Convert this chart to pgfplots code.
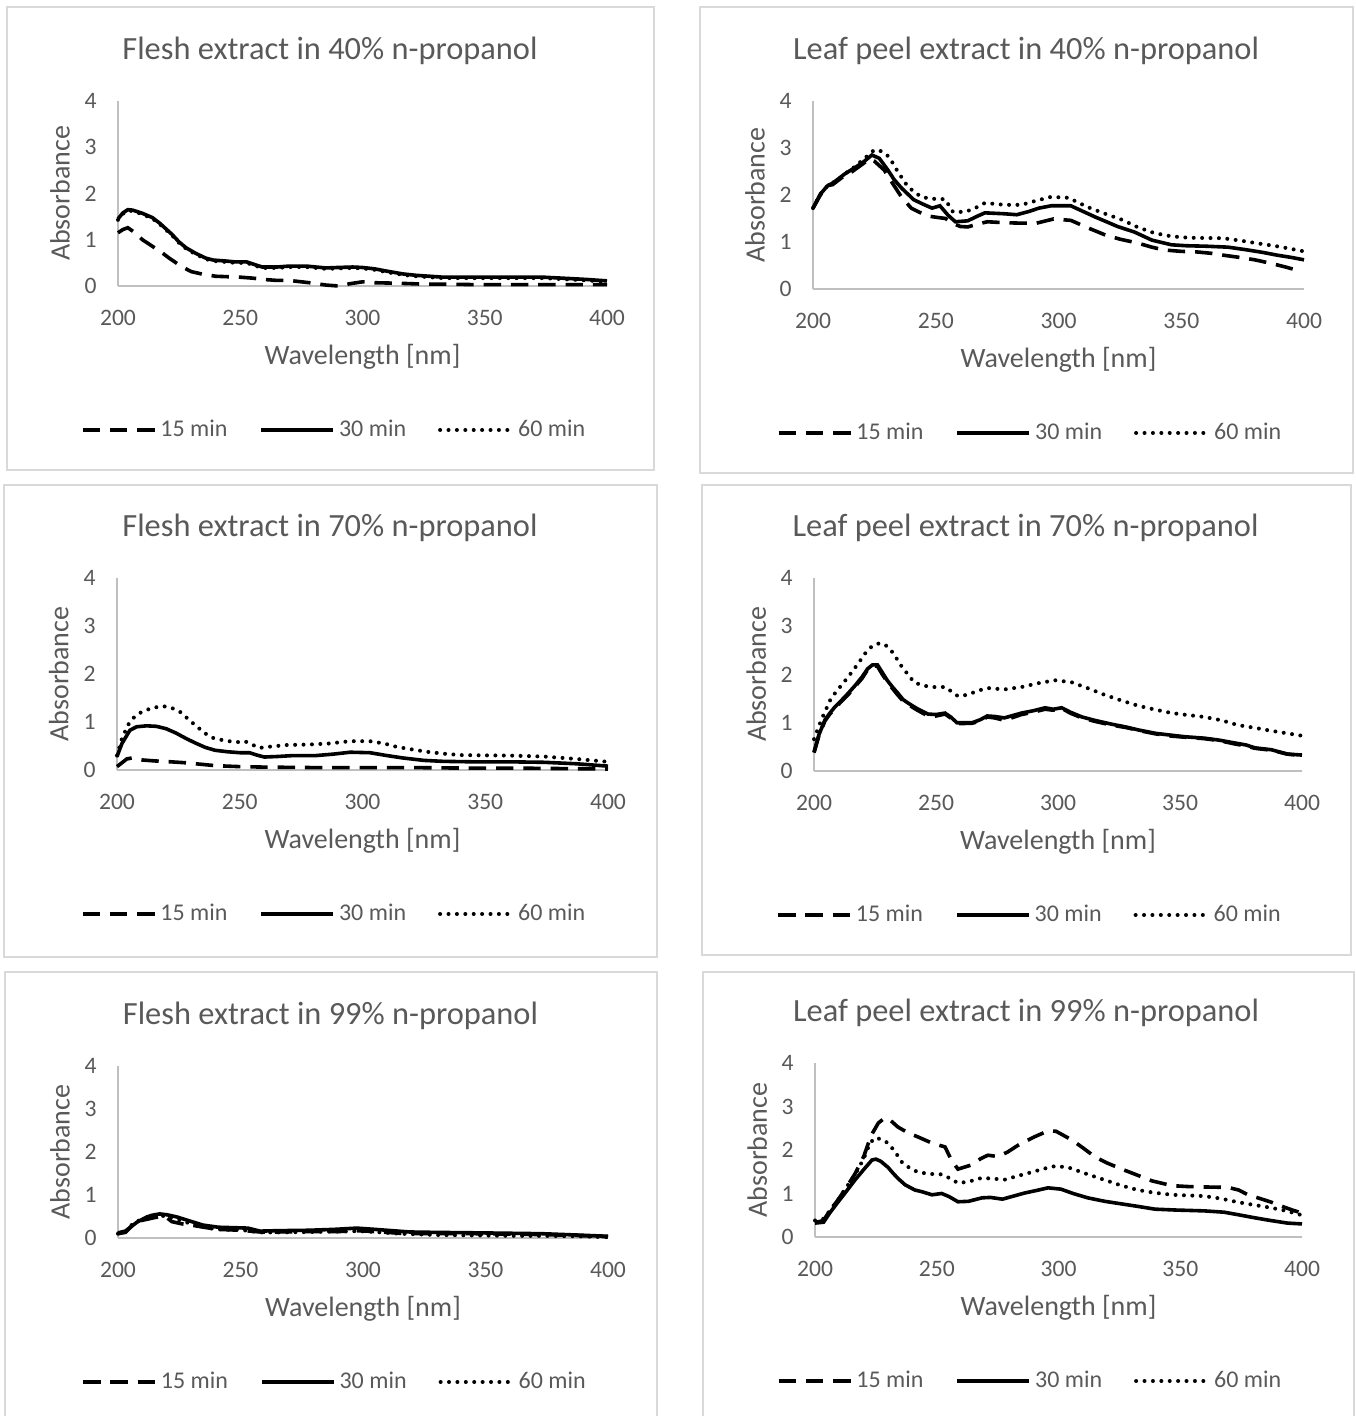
\documentclass[border=0pt]{standalone}
\usepackage{fontspec}
\setmainfont{Carlito}
\usepackage{pgfplots}
\pgfplotsset{compat=1.18}
\definecolor{txt}{HTML}{595959}
\definecolor{framec}{HTML}{D9D9D9}
\definecolor{axl}{HTML}{BFBFBF}

\tikzset{
  s15/.style={black, line width=1.8pt, dash pattern=on 8.7pt off 4.95pt},
  s30/.style={black, line width=1.8pt},
  s60/.style={black, line width=2pt, line cap=round, dash pattern=on 0pt off 4.2pt},
}
\pgfplotsset{
  panel/.style={
    scale only axis, anchor=south west,
    xmin=200, xmax=400, ymin=0, ymax=4,
    xtick={200,250,...,400}, ytick={0,1,2,3,4},
    axis lines=left, axis line style={draw=axl, line width=0.6pt, -},
    major tick length=0pt,
    /pgf/number format/assume math mode=true,
    tick label style={text=txt, font=\fontsize{11.8}{14}\selectfont},
    xticklabel style={anchor=center, yshift=-16pt},
    yticklabel style={anchor=east, inner sep=0pt, xshift=-10.5pt},
    xlabel={Wavelength [nm]}, ylabel={Absorbance},
    label style={text=txt, font=\fontsize{14}{17}\selectfont},
    xlabel style={at={(axis description cs:0.5,0)}, anchor=center, yshift=-35.5pt},
    ylabel style={at={(axis description cs:-0.1184,0.5)}, anchor=center},
    title style={at={(axis description cs:0.5,1)}, anchor=center, xshift=-16.25pt, yshift=19pt,
      text=txt, font=\fontsize{16.2}{19}\selectfont},
    legend columns=3,
    legend style={draw=none, fill=none, at={(axis description cs:0.5,0)}, anchor=center,
      xshift=-13.75pt, yshift=-72pt, font=\fontsize{12}{14}\selectfont, text=txt,
      /tikz/every even column/.append style={column sep=14pt}},
    legend image code/.code={\draw[#1] (0pt,0pt) -- (36pt,0pt);},
    clip=false, no marks,
  },
}

\begin{document}
\begin{tikzpicture}
\path[use as bounding box] (0pt,0pt) rectangle (677.5pt,708pt);
% panel frames
\draw[framec, line width=0.7pt] (3.5pt,473pt) rectangle (327pt,704.5pt);
\draw[framec, line width=0.7pt] (350pt,471.5pt) rectangle (676.5pt,704.5pt);
\draw[framec, line width=0.7pt] (2pt,229.5pt) rectangle (328.5pt,465.5pt);
\draw[framec, line width=0.7pt] (351pt,230.5pt) rectangle (675.5pt,465.5pt);
\draw[framec, line width=0.7pt] (2.5pt,-3pt) rectangle (328.5pt,222pt);
\draw[framec, line width=0.7pt] (351.5pt,-3pt) rectangle (677pt,222pt);

% Flesh 40%
\begin{axis}[panel, at={(59pt,565pt)}, width=244.5pt, height=92.5pt,
  title={Flesh extract in 40\% n-propanol}]
\addplot[s15] coordinates {(200,1.15)(202,1.22)(204,1.26)(207,1.15)(210,1.0)(214,0.86)(218,0.72)(221,0.6)(226,0.42)(230,0.31)(235,0.25)(240,0.21)(245,0.2)(250,0.19)(255,0.17)(260,0.14)(265,0.12)(270,0.12)(275,0.09)(280,0.06)(285,0.02)(290,0.0)(295,0.05)(300,0.09)(305,0.07)(314,0.06)(325,0.04)(333,0.04)(345,0.03)(360,0.03)(380,0.03)(400,0.03)};
\addplot[s30] coordinates {(200,1.45)(202,1.58)(204,1.65)(206,1.64)(210,1.57)(214,1.48)(217,1.36)(222,1.12)(225,0.95)(228,0.82)(232,0.7)(236,0.6)(239,0.56)(244,0.54)(248,0.52)(252.6,0.52)(256,0.46)(259,0.41)(265,0.41)(270,0.43)(277,0.43)(285,0.39)(290,0.4)(296,0.41)(300,0.4)(305,0.37)(310,0.32)(316.6,0.26)(322,0.23)(333,0.19)(345,0.19)(360,0.19)(374,0.19)(385,0.16)(392,0.14)(400,0.11)};
\addplot[s60] coordinates {(200,1.43)(202,1.56)(204,1.63)(206,1.62)(210,1.55)(214,1.46)(217,1.34)(222,1.1)(225,0.93)(228,0.8)(232,0.68)(236,0.58)(239,0.54)(244,0.52)(248,0.5)(252.6,0.5)(256,0.44)(259,0.39)(265,0.39)(270,0.41)(277,0.41)(285,0.37)(290,0.38)(296,0.39)(300,0.38)(305,0.35)(310,0.3)(316.6,0.24)(322,0.21)(333,0.17)(345,0.17)(360,0.17)(374,0.17)(385,0.14)(392,0.12)(400,0.09)};
\legend{15 min, 30 min, 60 min}
\end{axis}

% Leaf peel 40%
\begin{axis}[panel, at={(406.5pt,563.5pt)}, width=245.5pt, height=94pt,
  title={Leaf peel extract in 40\% n-propanol}]
\addplot[s15] coordinates {(200,1.72)(203,2.0)(206,2.2)(208,2.22)(210,2.3)(213,2.42)(216,2.5)(220,2.65)(223,2.77)(225,2.72)(229,2.53)(232,2.28)(236,1.96)(240,1.72)(243,1.64)(247,1.55)(251,1.52)(254,1.5)(256.6,1.4)(260,1.33)(263,1.32)(267,1.38)(271,1.43)(278,1.41)(285,1.4)(291,1.4)(298,1.49)(305,1.46)(312,1.3)(319,1.15)(325,1.06)(332,0.98)(338,0.89)(343,0.83)(350,0.8)(356,0.79)(362,0.76)(367,0.72)(374,0.67)(380,0.62)(387,0.54)(393,0.46)(397,0.4)};
\addplot[s30] coordinates {(200,1.72)(203,2.02)(206,2.2)(208,2.25)(210,2.33)(213,2.45)(217,2.58)(220,2.68)(224,2.85)(227,2.78)(230.5,2.53)(233,2.33)(236,2.15)(241,1.9)(245,1.8)(248.5,1.72)(251.7,1.77)(255,1.57)(258,1.43)(263,1.45)(267,1.55)(270,1.62)(278,1.6)(283,1.58)(288,1.65)(292,1.72)(297,1.77)(305,1.77)(310,1.65)(315,1.53)(320,1.42)(324,1.33)(331,1.21)(338,1.04)(346,0.94)(352,0.92)(360,0.91)(369,0.89)(377,0.83)(383,0.78)(389,0.72)(395,0.67)(400,0.62)};
\addplot[s60] coordinates {(200,1.72)(203,2.02)(206,2.2)(210,2.32)(213,2.45)(217,2.6)(221,2.78)(225,2.96)(228,2.93)(231,2.81)(234.6,2.49)(238.7,2.17)(244,1.96)(248,1.92)(253.8,1.91)(257,1.64)(262,1.64)(266,1.72)(270,1.83)(278,1.79)(285,1.79)(291,1.88)(297,1.96)(304,1.94)(312,1.74)(319,1.6)(326,1.47)(332,1.32)(339,1.19)(346,1.12)(353,1.09)(367,1.08)(374,1.03)(380,0.98)(390,0.9)(400,0.8)};
\legend{15 min, 30 min, 60 min}
\end{axis}

% Flesh 70%
\begin{axis}[panel, at={(58.5pt,323pt)}, width=245.5pt, height=96pt,
  title={Flesh extract in 70\% n-propanol}]
\addplot[s15] coordinates {(200,0.07)(202,0.15)(204,0.23)(206,0.25)(210,0.21)(215,0.19)(222,0.17)(228,0.15)(234,0.12)(240,0.09)(250,0.07)(260,0.06)(280,0.05)(300,0.05)(320,0.05)(340,0.04)(360,0.04)(380,0.03)(400,0.02)};
\addplot[s30] coordinates {(200,0.28)(202,0.55)(205.3,0.83)(208,0.9)(212,0.92)(216,0.91)(220,0.86)(224,0.77)(228,0.66)(232,0.56)(236,0.47)(240,0.41)(245,0.38)(250,0.36)(254,0.36)(257,0.31)(260,0.27)(265,0.28)(271.7,0.3)(281,0.3)(288,0.33)(295,0.37)(303,0.36)(310,0.3)(316.5,0.25)(325,0.2)(332.8,0.18)(345,0.17)(360,0.17)(374,0.16)(387,0.13)(400,0.08)};
\addplot[s60] coordinates {(200,0.3)(202,0.65)(204.5,0.94)(207,1.1)(209.4,1.19)(214,1.29)(218.7,1.33)(222,1.3)(225.7,1.21)(229,1.06)(232.6,0.9)(236,0.76)(239,0.67)(244,0.61)(249,0.58)(252,0.6)(255,0.53)(258,0.46)(263,0.49)(269,0.52)(278,0.53)(286,0.55)(295,0.6)(303,0.6)(309,0.55)(314,0.48)(320,0.43)(326,0.38)(333,0.34)(340,0.31)(360,0.3)(374,0.28)(387,0.23)(400,0.17)};
\legend{15 min, 30 min, 60 min}
\end{axis}

% Leaf peel 70%
\begin{axis}[panel, at={(407pt,322.5pt)}, width=244pt, height=96.5pt,
  title={Leaf peel extract in 70\% n-propanol}]
\addplot[s15] coordinates {(200,0.38)(202,0.73)(204.5,1.04)(206.5,1.18)(208.6,1.3)(211,1.43)(214,1.58)(217,1.76)(219.7,1.92)(222,2.1)(224,2.18)(226,2.17)(228,2.0)(230,1.85)(232,1.72)(234.4,1.57)(236.5,1.45)(238.5,1.38)(242,1.27)(246.7,1.14)(250,1.14)(253.7,1.18)(256,1.1)(258.6,0.98)(264.8,0.99)(268,1.03)(271,1.12)(274,1.1)(278,1.05)(285,1.17)(290,1.22)(294.7,1.28)(298,1.26)(301.5,1.3)(305,1.2)(309.8,1.1)(315,1.03)(322,0.95)(328,0.9)(333,0.84)(340,0.77)(345,0.73)(352,0.7)(360,0.67)(366,0.63)(372.5,0.56)(377,0.52)(380.7,0.47)(387.5,0.43)(394,0.35)(400,0.32)};
\addplot[s30] coordinates {(200,0.39)(202,0.75)(204.5,1.06)(206.5,1.2)(208.6,1.33)(211,1.45)(214,1.61)(217,1.78)(219.7,1.95)(222,2.12)(224,2.2)(226,2.2)(228,2.04)(230,1.88)(232,1.75)(234.4,1.61)(236.5,1.48)(238.5,1.41)(242,1.3)(246.7,1.18)(250,1.17)(253.7,1.2)(256,1.12)(258.6,1.0)(264.8,1.0)(268,1.06)(271,1.14)(274,1.13)(278,1.1)(285,1.2)(290,1.25)(294.7,1.31)(298,1.28)(301.5,1.31)(305,1.22)(309.8,1.12)(315,1.05)(322,0.97)(328,0.91)(333,0.85)(340,0.78)(345,0.75)(352,0.71)(360,0.68)(366,0.64)(372.5,0.58)(377,0.54)(380.7,0.48)(387.5,0.44)(394,0.35)(400,0.33)};
\addplot[s60] coordinates {(200,0.66)(203,1.06)(207,1.51)(210,1.7)(214,1.95)(218,2.22)(221,2.44)(224,2.6)(227,2.65)(229.5,2.6)(232,2.47)(234,2.32)(236,2.16)(238.5,2.0)(241,1.84)(244,1.78)(248,1.74)(253.7,1.74)(256,1.66)(259,1.55)(263,1.58)(267,1.66)(271,1.72)(278,1.69)(285,1.74)(292,1.82)(298.8,1.88)(305.5,1.84)(312,1.72)(319,1.58)(326,1.46)(333,1.35)(340,1.27)(346.7,1.2)(353,1.16)(360,1.12)(367,1.05)(373.8,0.95)(380,0.9)(387.7,0.83)(394,0.78)(400,0.73)};
\legend{15 min, 30 min, 60 min}
\end{axis}

% Flesh 99%
\begin{axis}[panel, at={(59pt,89pt)}, width=245pt, height=86pt,
  title={Flesh extract in 99\% n-propanol}]
\addplot[s15] coordinates {(200,0.1)(203,0.13)(206,0.3)(209,0.4)(213,0.45)(217,0.5)(220,0.47)(222,0.38)(226,0.33)(230,0.3)(235,0.25)(241,0.2)(250,0.18)(258,0.14)(265,0.14)(278,0.15)(290,0.15)(298,0.17)(305,0.15)(315,0.11)(330,0.1)(346,0.1)(360,0.09)(373,0.08)(387,0.06)(400,0.03)};
\addplot[s30] coordinates {(200,0.12)(203,0.16)(205.5,0.27)(207.8,0.37)(211.8,0.49)(214,0.53)(217,0.56)(220,0.54)(224,0.49)(229,0.4)(234.7,0.3)(241,0.25)(247,0.24)(253,0.23)(258,0.16)(265,0.17)(278,0.18)(288,0.2)(297.5,0.23)(305,0.2)(312,0.17)(319,0.14)(330,0.13)(346.5,0.12)(360,0.11)(373,0.1)(387,0.07)(400,0.04)};
\addplot[s60] coordinates {(200,0.1)(203,0.14)(206,0.33)(209,0.42)(213,0.48)(217,0.52)(221,0.5)(226,0.4)(232,0.29)(240,0.2)(250,0.19)(258,0.13)(265,0.13)(278,0.14)(290,0.15)(298,0.16)(305,0.14)(315,0.1)(330,0.07)(346,0.06)(360,0.05)(373,0.05)(387,0.04)(400,0.02)};
\legend{15 min, 30 min, 60 min}
\end{axis}

% Leaf peel 99%
\begin{axis}[panel, at={(407.5pt,89.5pt)}, width=243.5pt, height=87pt,
  title={Leaf peel extract in 99\% n-propanol}]
\addplot[s15] coordinates {(200,0.33)(203.5,0.38)(206,0.6)(209.4,0.85)(213,1.15)(216.4,1.45)(220,1.85)(223,2.33)(226,2.62)(228.7,2.74)(231,2.68)(234,2.53)(238,2.4)(242.3,2.3)(248,2.16)(253.4,2.07)(256,1.77)(258.7,1.56)(261,1.6)(264.5,1.66)(268,1.8)(271,1.88)(275,1.85)(279,1.95)(283.4,2.11)(290,2.3)(295.7,2.44)(299,2.43)(305.5,2.23)(310,2.05)(315,1.84)(320,1.7)(326,1.56)(332,1.43)(338.4,1.29)(346.6,1.18)(353,1.16)(360,1.15)(369.6,1.14)(374,1.08)(377.8,0.97)(383,0.88)(387.4,0.8)(392,0.7)(396,0.62)(400,0.55)};
\addplot[s30] coordinates {(200,0.32)(203.5,0.34)(206,0.55)(209.4,0.8)(213,1.06)(216.4,1.31)(220,1.55)(223.4,1.77)(225,1.79)(227,1.74)(230,1.6)(232,1.47)(234,1.35)(237,1.2)(241,1.08)(244,1.04)(248,0.97)(252,1.0)(255,0.93)(258.7,0.81)(263,0.82)(268.6,0.9)(272,0.91)(277,0.87)(286,1.01)(291,1.07)(295.7,1.13)(301,1.1)(306,1.0)(312,0.9)(319,0.82)(326,0.76)(333,0.7)(339.6,0.64)(348,0.62)(360,0.6)(368,0.57)(374,0.51)(380.7,0.44)(387,0.38)(394,0.32)(400,0.3)};
\addplot[s60] coordinates {(200,0.38)(203.5,0.42)(206,0.6)(209.4,0.85)(213,1.15)(216.4,1.43)(220,1.8)(222.5,2.15)(224.6,2.28)(227,2.25)(230,2.16)(233,1.95)(235.7,1.72)(239,1.58)(242.3,1.49)(247,1.45)(252,1.44)(255,1.36)(258.7,1.24)(263,1.27)(268.6,1.36)(273,1.34)(278,1.32)(283,1.4)(289,1.49)(294,1.57)(298.6,1.63)(304,1.6)(311,1.46)(319,1.31)(326,1.18)(332.6,1.08)(339,1.02)(346.6,0.97)(360,0.94)(367,0.88)(373.7,0.8)(380,0.74)(387.4,0.67)(392,0.62)(397,0.55)(400,0.5)};
\legend{15 min, 30 min, 60 min}
\end{axis}
\end{tikzpicture}
\end{document}
